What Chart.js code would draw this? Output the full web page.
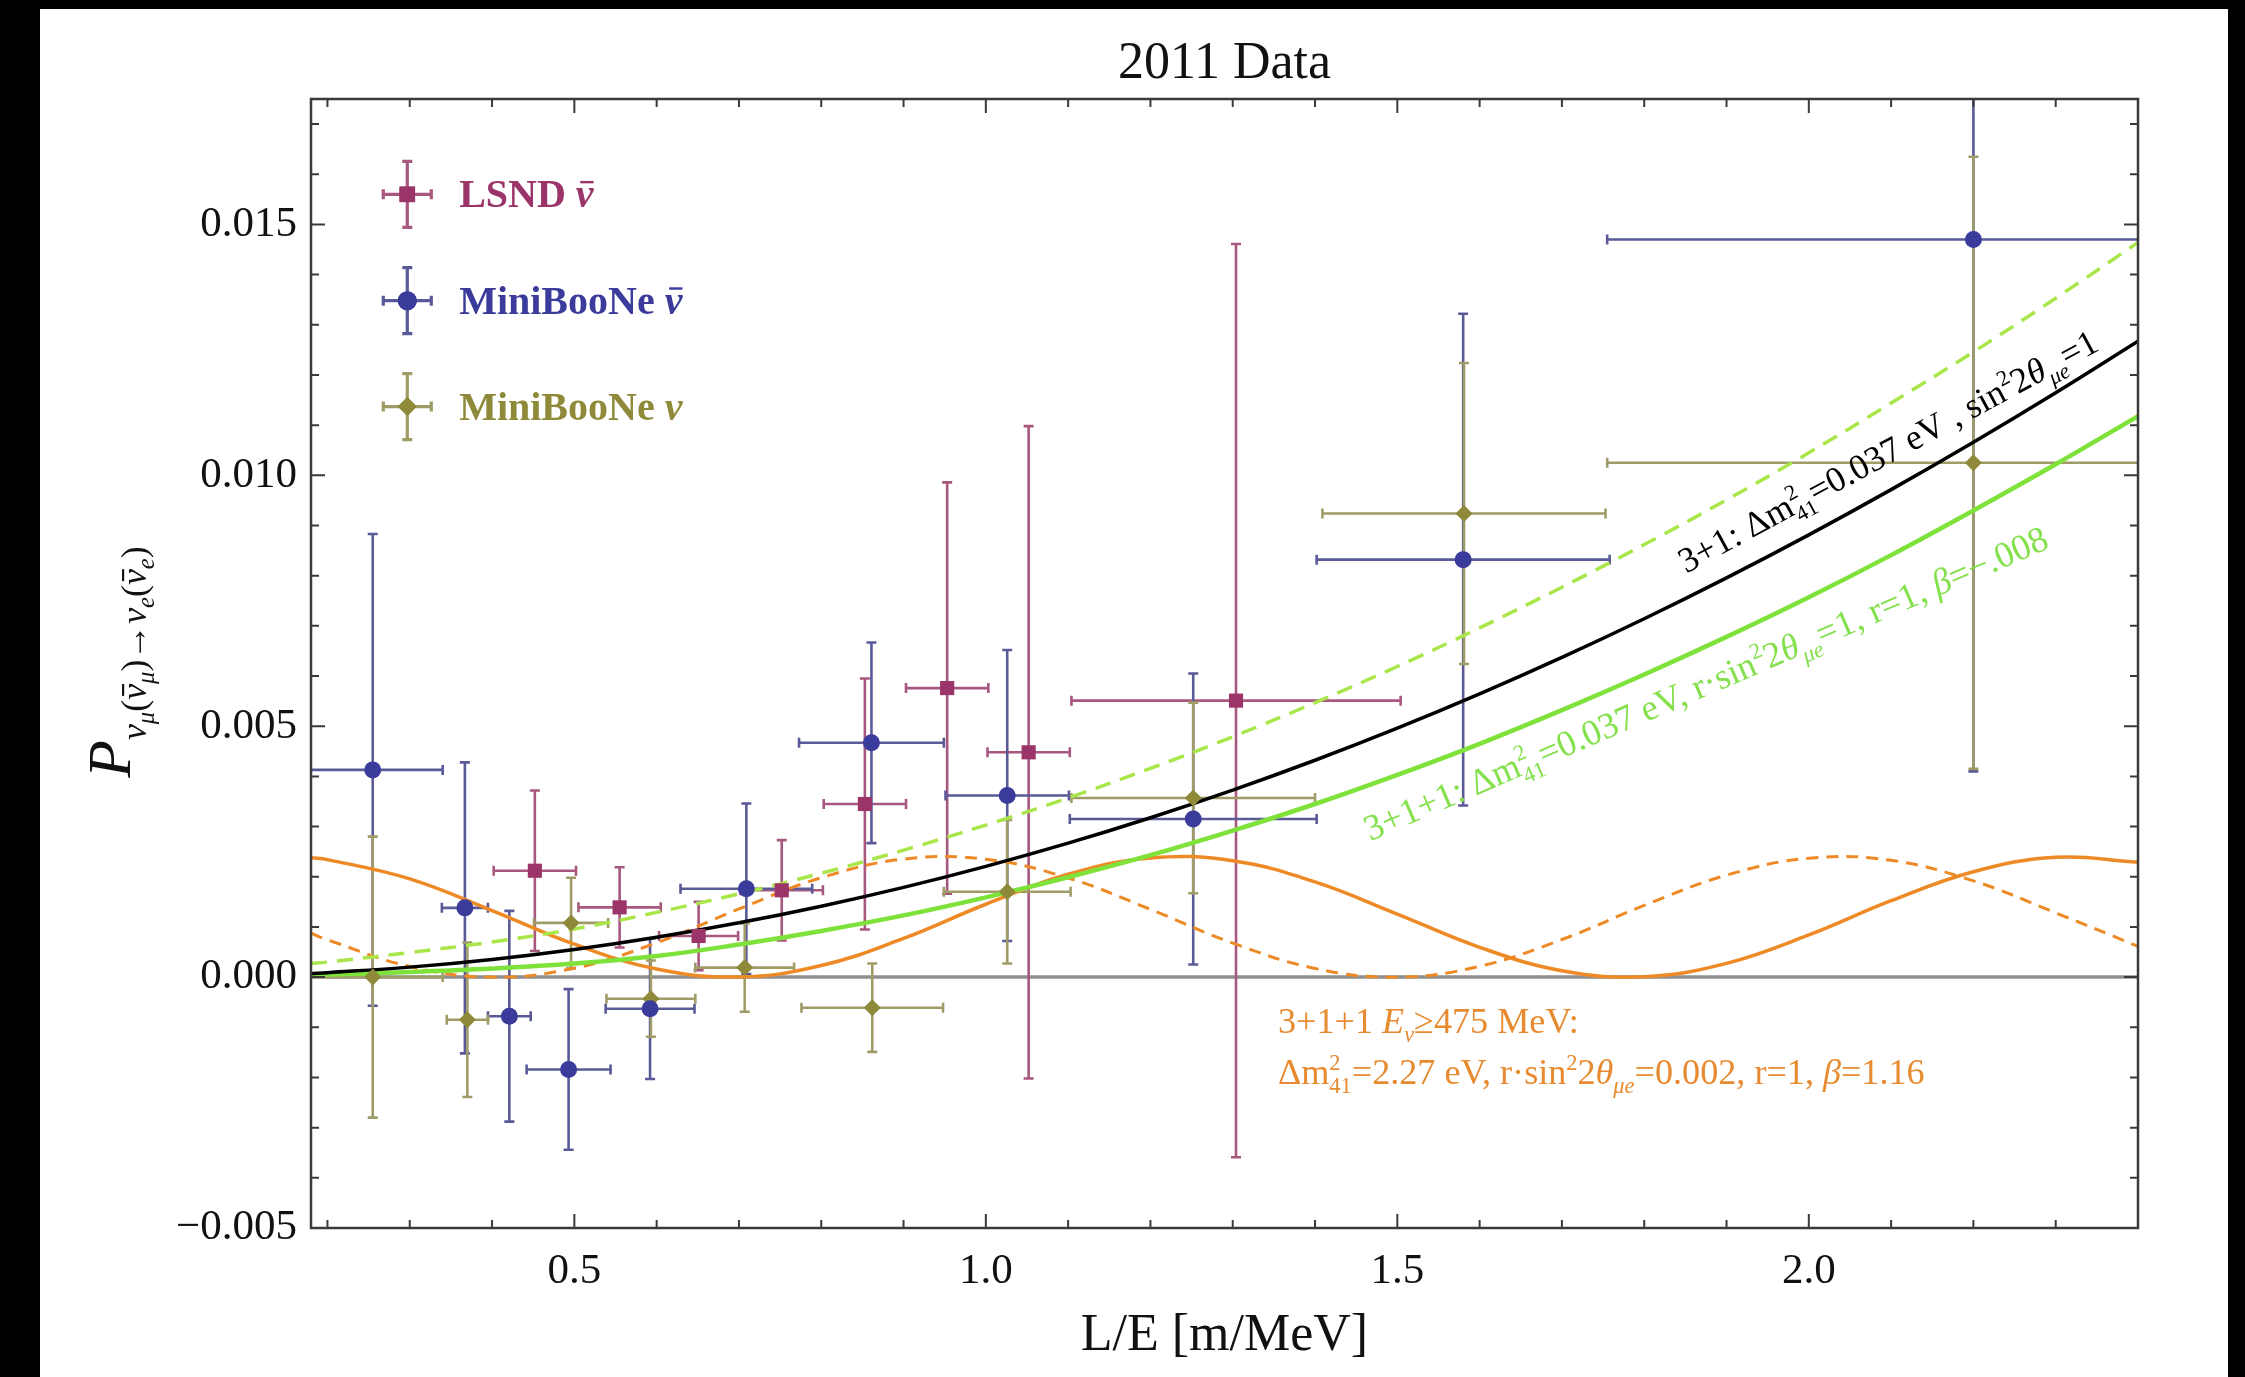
<!DOCTYPE html>
<html>
<head>
<meta charset="utf-8">
<script src="https://cdn.jsdelivr.net/npm/chart.js@4.4.0/dist/chart.umd.min.js"></script>
<style>
  html, body { margin: 0; padding: 0; background: #000; overflow: hidden; }
  canvas { display: block; }
</style>
</head>
<body>
<canvas id="chart" width="2245" height="1377"></canvas>
<script>
// axis ranges and tick labels
const xMin = 0.18, xMax = 2.4, yMin = -0.005, yMax = 0.0175;
const xTickValues = [0.5, 1.0, 1.5, 2.0];
const xTickLabels = ['0.5', '1.0', '1.5', '2.0'];
const yTickValues = [-0.005, 0, 0.005, 0.010, 0.015];
const yTickLabels = ['\u22120.005', '0.000', '0.005', '0.010', '0.015'];

// LSND antineutrino points (squares)
const lsndX    = [0.452, 0.555, 0.651, 0.752, 0.853, 0.953, 1.052, 1.304];
const lsndY    = [0.00212, 0.00139, 0.00082, 0.00173, 0.00345, 0.00576, 0.00448, 0.00551];
const lsndXErr = [0.05, 0.05, 0.048, 0.05, 0.05, 0.05, 0.05, 0.2];
const lsndYErr = [0.0016, 0.0008, 0.00068, 0.001, 0.0025, 0.0041, 0.0065, 0.0091];

// MiniBooNE antineutrino points (circles)
const mbBarX    = [0.255, 0.367, 0.421, 0.493, 0.592, 0.709, 0.861, 1.026, 1.252, 1.58, 2.2];
const mbBarY    = [0.00413, 0.00138, -0.00078, -0.00184, -0.00063, 0.00176, 0.00467, 0.00362, 0.00315, 0.00832, 0.0147];
const mbBarXErr = [0.085, 0.028, 0.026, 0.051, 0.054, 0.08, 0.088, 0.075, 0.15, 0.178, 0.445];
const mbBarYErr = [0.0047, 0.0029, 0.0021, 0.0016, 0.0014, 0.0017, 0.002, 0.0029, 0.0029, 0.0049, 0.0106];

// MiniBooNE neutrino points (diamonds)
const mbNuX    = [0.255, 0.37, 0.496, 0.593, 0.707, 0.862, 1.026, 1.252, 1.581, 2.2];
const mbNuY    = [0.0, -0.00085, 0.00108, -0.00043, 0.00019, -0.00061, 0.0017, 0.00357, 0.00924, 0.01025];
const mbNuXErr = [0.085, 0.025, 0.045, 0.054, 0.06, 0.086, 0.077, 0.148, 0.172, 0.445];
const mbNuYErr = [0.0028, 0.00154, 0.0009, 0.00076, 0.00088, 0.00088, 0.00143, 0.0019, 0.003, 0.0061];

// model curves
const curveX      = [0.18, 0.2, 0.3, 0.4, 0.5, 0.6, 0.7, 0.8, 0.9, 1.0, 1.1, 1.2, 1.3, 1.4, 1.5, 1.6, 1.7, 1.8, 1.9, 2.0, 2.1, 2.2, 2.3, 2.4];
const black31     = [0.0000715, 0.0000883, 0.000199, 0.000353, 0.000552, 0.000795, 0.001082, 0.001413, 0.001788, 0.002207, 0.002669, 0.003176, 0.003727, 0.004322, 0.004961, 0.005644, 0.006371, 0.007141, 0.007956, 0.008814, 0.009715, 0.010659, 0.011645, 0.012672];
const green311    = [0.00004, 0.00005, 0.0001, 0.00017, 0.00027, 0.00042, 0.00065, 0.00092, 0.00123, 0.00159, 0.00199, 0.00243, 0.00292, 0.00345, 0.00403, 0.00465, 0.00532, 0.00603, 0.00678, 0.00757, 0.00841, 0.0093, 0.01022, 0.01118];
const green311Bar = [0.00027, 0.0003, 0.00049, 0.0007, 0.00096, 0.00129, 0.00166, 0.00207, 0.00253, 0.00303, 0.00357, 0.00416, 0.00479, 0.00547, 0.00619, 0.00696, 0.00777, 0.00862, 0.00951, 0.01045, 0.01144, 0.01246, 0.01353, 0.01464];
const orange311    = [0.002377, 0.002342, 0.001957, 0.001327, 0.000656, 0.000161, 0.000002, 0.00023, 0.000771, 0.001452, 0.002049, 0.002375, 0.002318, 0.001898, 0.001256, 0.000594, 0.000127, 0.000008, 0.000274, 0.00084, 0.001522, 0.0021, 0.002387, 0.002291];
const orange311Bar = [0.000874, 0.000743, 0.000212, 0.0, 0.000177, 0.000684, 0.001358, 0.00198, 0.002352, 0.002349, 0.001976, 0.001351, 0.000678, 0.000173, 0.0, 0.000216, 0.000749, 0.001428, 0.002032, 0.00237, 0.002327, 0.001918, 0.00128, 0.000615];

const SERIF = '"Liberation Serif", "DejaVu Serif", serif';
const lsndColor = '#9b3468', mbBarColor = '#3b3b9b', mbNuColor = '#8e8a3a';
const greenLine = '#7ee23a', greenDash = '#a9e64a', orange = '#ee8a26';

const pts = (xs, ys) => xs.map((x, i) => ({ x: x, y: ys[i] }));

// rich text: [text, size factor, baseline shift factor, flags] flags: i italic, B bold, n no advance, b overbar
function segFont(s, base) {
  const f = s[3] || '';
  return (f.includes('i') ? 'italic ' : '') + (f.includes('B') ? 'bold ' : '') + (base * s[1]) + 'px ' + SERIF;
}
function richWidth(ctx, segs, base) {
  let w = 0;
  segs.forEach(s => {
    ctx.font = segFont(s, base);
    if (!(s[3] || '').includes('n')) w += ctx.measureText(s[0]).width;
  });
  return w;
}
function drawRich(ctx, segs, base, x, y, angle, align, color) {
  const w = richWidth(ctx, segs, base);
  ctx.save();
  ctx.translate(x, y);
  ctx.rotate(angle);
  ctx.fillStyle = color;
  ctx.textBaseline = 'alphabetic';
  let cx = align === 'center' ? -w / 2 : 0;
  segs.forEach(s => {
    const f = s[3] || '';
    const size = base * s[1];
    ctx.font = segFont(s, base);
    const sw = ctx.measureText(s[0]).width;
    const dy = base * s[2];
    ctx.fillText(s[0], cx, dy);
    if (f.includes('b')) ctx.fillRect(cx + sw * 0.25, dy - size * 0.66, sw * 0.75, Math.max(2, size * 0.06));
    if (!f.includes('n')) cx += sw;
  });
  ctx.restore();
}

const SUP = -0.4, SUB = 0.25;
const blackLabel = [['3+1: \u0394m', 1, 0], ['2', 0.62, SUP, 'n'], ['41', 0.62, SUB], ['=0.037 eV , sin', 1, 0], ['2', 0.62, SUP], ['2', 1, 0], ['\u03b8', 1, 0, 'i'], ['\u03bce', 0.62, SUB, 'i'], ['=1', 1, 0]];
const greenLabel = [['3+1+1: \u0394m', 1, 0], ['2', 0.62, SUP, 'n'], ['41', 0.62, SUB], ['=0.037 eV, r\u00b7sin', 1, 0], ['2', 0.62, SUP], ['2', 1, 0], ['\u03b8', 1, 0, 'i'], ['\u03bce', 0.62, SUB, 'i'], ['=1, r=1, ', 1, 0], ['\u03b2', 1, 0, 'i'], ['=\u2212.008', 1, 0]];
const orangeLine1 = [['3+1+1 ', 1, 0], ['E', 1, 0, 'i'], ['\u03bd', 0.62, SUB, 'i'], ['\u2265475 MeV:', 1, 0]];
const orangeLine2 = [['\u0394m', 1, 0], ['2', 0.62, SUP, 'n'], ['41', 0.62, SUB], ['=2.27 eV, r\u00b7sin', 1, 0], ['2', 0.62, SUP], ['2', 1, 0], ['\u03b8', 1, 0, 'i'], ['\u03bce', 0.62, SUB, 'i'], ['=0.002, r=1, ', 1, 0], ['\u03b2', 1, 0, 'i'], ['=1.16', 1, 0]];
const yTitle = [['P', 1.1, 0, 'i'], ['\u03bd', 0.64, 0.28, 'i'], ['\u03bc', 0.44, 0.42, 'i'], ['(', 0.64, 0.28], ['\u03bd', 0.64, 0.28, 'ib'], ['\u03bc', 0.44, 0.42, 'i'], [')\u2192', 0.64, 0.28], ['\u03bd', 0.64, 0.28, 'i'], ['e', 0.44, 0.42, 'i'], ['(', 0.64, 0.28], ['\u03bd', 0.64, 0.28, 'ib'], ['e', 0.44, 0.42, 'i'], [')', 0.64, 0.28]];

const legendItems = [
  { segs: [['LSND ', 1, 0, 'B'], ['\u03bd', 1, 0, 'iBb']], color: lsndColor, err: '#a8587f', style: 'rect' },
  { segs: [['MiniBooNe ', 1, 0, 'B'], ['\u03bd', 1, 0, 'iBb']], color: mbBarColor, err: '#5a5a98', style: 'circle' },
  { segs: [['MiniBooNe ', 1, 0, 'B'], ['\u03bd', 1, 0, 'iB']], color: mbNuColor, err: '#a09c68', style: 'rectRot' }
];

const backdrop = {
  id: 'backdrop',
  beforeDraw(chart) {
    const ctx = chart.ctx;
    ctx.save();
    ctx.fillStyle = '#000';
    ctx.fillRect(0, 0, chart.width, chart.height);
    ctx.fillStyle = '#fff';
    ctx.fillRect(40, 9, 2188, chart.height - 9);
    ctx.restore();
  }
};

function errCross(ctx, px, py, x0, x1, y0, y1, cap) {
  ctx.beginPath();
  ctx.moveTo(x0, py); ctx.lineTo(x1, py);
  ctx.moveTo(px, y0); ctx.lineTo(px, y1);
  ctx.moveTo(x0, py - cap); ctx.lineTo(x0, py + cap);
  ctx.moveTo(x1, py - cap); ctx.lineTo(x1, py + cap);
  ctx.moveTo(px - cap, y0); ctx.lineTo(px + cap, y0);
  ctx.moveTo(px - cap, y1); ctx.lineTo(px + cap, y1);
  ctx.stroke();
}

const errorBars = {
  id: 'errorBars',
  beforeDatasetsDraw(chart) {
    const { ctx, chartArea: a, scales: { x, y } } = chart;
    ctx.save();
    ctx.beginPath();
    ctx.rect(a.left, a.top, a.right - a.left, a.bottom - a.top);
    ctx.clip();
    // zero line
    ctx.strokeStyle = '#8f8f8f';
    ctx.lineWidth = 3.5;
    ctx.beginPath();
    ctx.moveTo(a.left, y.getPixelForValue(0));
    ctx.lineTo(a.right, y.getPixelForValue(0));
    ctx.stroke();
    chart.data.datasets.forEach(ds => {
      if (!ds.errX) return;
      ctx.strokeStyle = ds.errColor;
      ctx.lineWidth = 2.6;
      ds.data.forEach((p, i) => {
        errCross(ctx, x.getPixelForValue(p.x), y.getPixelForValue(p.y),
          x.getPixelForValue(p.x - ds.errX[i]), x.getPixelForValue(p.x + ds.errX[i]),
          y.getPixelForValue(p.y - ds.errY[i]), y.getPixelForValue(p.y + ds.errY[i]), 5);
      });
    });
    ctx.restore();
  }
};

const overlay = {
  id: 'overlay',
  afterDatasetsDraw(chart) {
    const { ctx, scales: { x, y } } = chart;
    // curve labels
    const p0 = [x.getPixelForValue(1.851), y.getPixelForValue(0.00804)];
    const p1 = [x.getPixelForValue(2.355), y.getPixelForValue(0.01251)];
    let len = Math.hypot(p1[0] - p0[0], p1[1] - p0[1]);
    let base = 30 * len / richWidth(ctx, blackLabel, 30);
    drawRich(ctx, blackLabel, base, p0[0], p0[1], Math.atan2(p1[1] - p0[1], p1[0] - p0[0]), 'left', '#000');

    const g0 = [x.getPixelForValue(1.467), y.getPixelForValue(0.00271)];
    const g1 = [x.getPixelForValue(2.294), y.getPixelForValue(0.00856)];
    len = Math.hypot(g1[0] - g0[0], g1[1] - g0[1]);
    base = 30 * len / richWidth(ctx, greenLabel, 30);
    drawRich(ctx, greenLabel, base, g0[0], g0[1], Math.atan2(g1[1] - g0[1], g1[0] - g0[0]), 'left', '#84e04c');

    const ox = x.getPixelForValue(1.355);
    const ow = x.getPixelForValue(2.141) - ox;
    base = 30 * ow / richWidth(ctx, orangeLine2, 30);
    drawRich(ctx, orangeLine1, base, ox, y.getPixelForValue(-0.00112), 0, 'left', '#e88a30');
    drawRich(ctx, orangeLine2, base, ox, y.getPixelForValue(-0.00213), 0, 'left', '#e88a30');

    // legend
    const lx = x.getPixelForValue(0.297);
    const tx = x.getPixelForValue(0.36);
    const rows = [0.0156, 0.01348, 0.01137];
    legendItems.forEach((it, i) => {
      const ly = y.getPixelForValue(rows[i]);
      ctx.save();
      ctx.strokeStyle = it.err;
      ctx.lineWidth = 3.2;
      errCross(ctx, lx, ly, lx - 24, lx + 24, ly - 33, ly + 33, 5);
      ctx.fillStyle = it.color;
      Chart.helpers.drawPoint(ctx, { pointStyle: it.style, radius: it.style === 'rect' ? 11 : 9.5, rotation: 0, borderWidth: 0 }, lx, ly);
      ctx.fill();
      ctx.restore();
      drawRich(ctx, it.segs, 40, tx, ly + 13, 0, 'left', it.color);
    });
  },
  afterDraw(chart) {
    const { ctx, chartArea: a, scales: { x, y } } = chart;
    ctx.save();
    ctx.strokeStyle = '#3a3a3a';
    ctx.lineWidth = 2.5;
    ctx.strokeRect(a.left, a.top, a.right - a.left, a.bottom - a.top);
    ctx.lineWidth = 2;
    ctx.beginPath();
    for (let k = 2; k <= 24; k++) {
      const px = x.getPixelForValue(k / 10);
      const len = k % 5 === 0 ? 14 : 8;
      ctx.moveTo(px, a.bottom); ctx.lineTo(px, a.bottom - len);
      ctx.moveTo(px, a.top); ctx.lineTo(px, a.top + len);
    }
    for (let k = -5; k <= 17; k++) {
      const py = y.getPixelForValue(k / 1000);
      const len = k % 5 === 0 ? 14 : 8;
      ctx.moveTo(a.left, py); ctx.lineTo(a.left + len, py);
      ctx.moveTo(a.right, py); ctx.lineTo(a.right - len, py);
    }
    ctx.stroke();
    ctx.restore();

    // titles
    ctx.save();
    ctx.fillStyle = '#111';
    ctx.textAlign = 'center';
    ctx.textBaseline = 'alphabetic';
    ctx.font = '52px ' + SERIF;
    ctx.fillText('2011 Data', (a.left + a.right) / 2, 78);
    ctx.fillText('L/E [m/MeV]', (a.left + a.right) / 2, 1350);
    ctx.restore();
    drawRich(ctx, yTitle, 56, 130, 662, -Math.PI / 2, 'center', '#111');
  }
};

const datasets = [
  { label: 'LSND', data: pts(lsndX, lsndY), pointStyle: 'rect', pointRadius: 10, backgroundColor: lsndColor, borderColor: lsndColor, borderWidth: 0, errX: lsndXErr, errY: lsndYErr, errColor: '#a8587f', order: 0 },
  { label: 'MiniBooNE nubar', data: pts(mbBarX, mbBarY), pointStyle: 'circle', pointRadius: 8.5, backgroundColor: mbBarColor, borderColor: mbBarColor, borderWidth: 0, errX: mbBarXErr, errY: mbBarYErr, errColor: '#5a5a98', order: 0 },
  { label: 'MiniBooNE nu', data: pts(mbNuX, mbNuY), pointStyle: 'rectRot', pointRadius: 8.5, backgroundColor: mbNuColor, borderColor: mbNuColor, borderWidth: 0, errX: mbNuXErr, errY: mbNuYErr, errColor: '#a09c68', order: 0 },
  { label: '3+1', data: pts(curveX, black31), showLine: true, pointRadius: 0, borderColor: '#000', borderWidth: 3.5, tension: 0.4, order: 1 },
  { label: '3+1+1 nubar', data: pts(curveX, green311Bar), showLine: true, pointRadius: 0, borderColor: greenDash, borderWidth: 3.5, borderDash: [16, 10], tension: 0.4, order: 1 },
  { label: '3+1+1 nu', data: pts(curveX, green311), showLine: true, pointRadius: 0, borderColor: greenLine, borderWidth: 4.5, tension: 0.4, order: 1 },
  { label: 'E>475 nu', data: pts(curveX, orange311), showLine: true, pointRadius: 0, borderColor: orange, borderWidth: 3.5, tension: 0.4, order: 1 },
  { label: 'E>475 nubar', data: pts(curveX, orange311Bar), showLine: true, pointRadius: 0, borderColor: orange, borderWidth: 3, borderDash: [12, 8], tension: 0.4, order: 1 }
];

new Chart(document.getElementById('chart'), {
  type: 'scatter',
  data: { datasets: datasets },
  options: {
    responsive: false,
    animation: false,
    devicePixelRatio: 1,
    layout: { padding: { top: 99, right: 107, left: 0, bottom: 0 } },
    plugins: { legend: { display: false }, tooltip: { enabled: false } },
    scales: {
      x: {
        type: 'linear', min: xMin, max: xMax,
        grid: { display: false, drawTicks: false },
        border: { display: false },
        afterBuildTicks: s => { s.ticks = xTickValues.map(v => ({ value: v })); },
        afterFit: s => { s.height = 149; },
        ticks: { callback: (v, i) => xTickLabels[i], font: { family: SERIF, size: 43 }, color: '#111', padding: 18, maxRotation: 0, autoSkip: false }
      },
      y: {
        type: 'linear', min: yMin, max: yMax,
        grid: { display: false, drawTicks: false },
        border: { display: false },
        afterBuildTicks: s => { s.ticks = yTickValues.map(v => ({ value: v })); },
        afterFit: s => { s.width = 311; },
        ticks: { callback: (v, i) => yTickLabels[i], font: { family: SERIF, size: 43 }, color: '#111', padding: 14, autoSkip: false }
      }
    }
  },
  plugins: [backdrop, errorBars, overlay]
});
</script>
</body>
</html>
